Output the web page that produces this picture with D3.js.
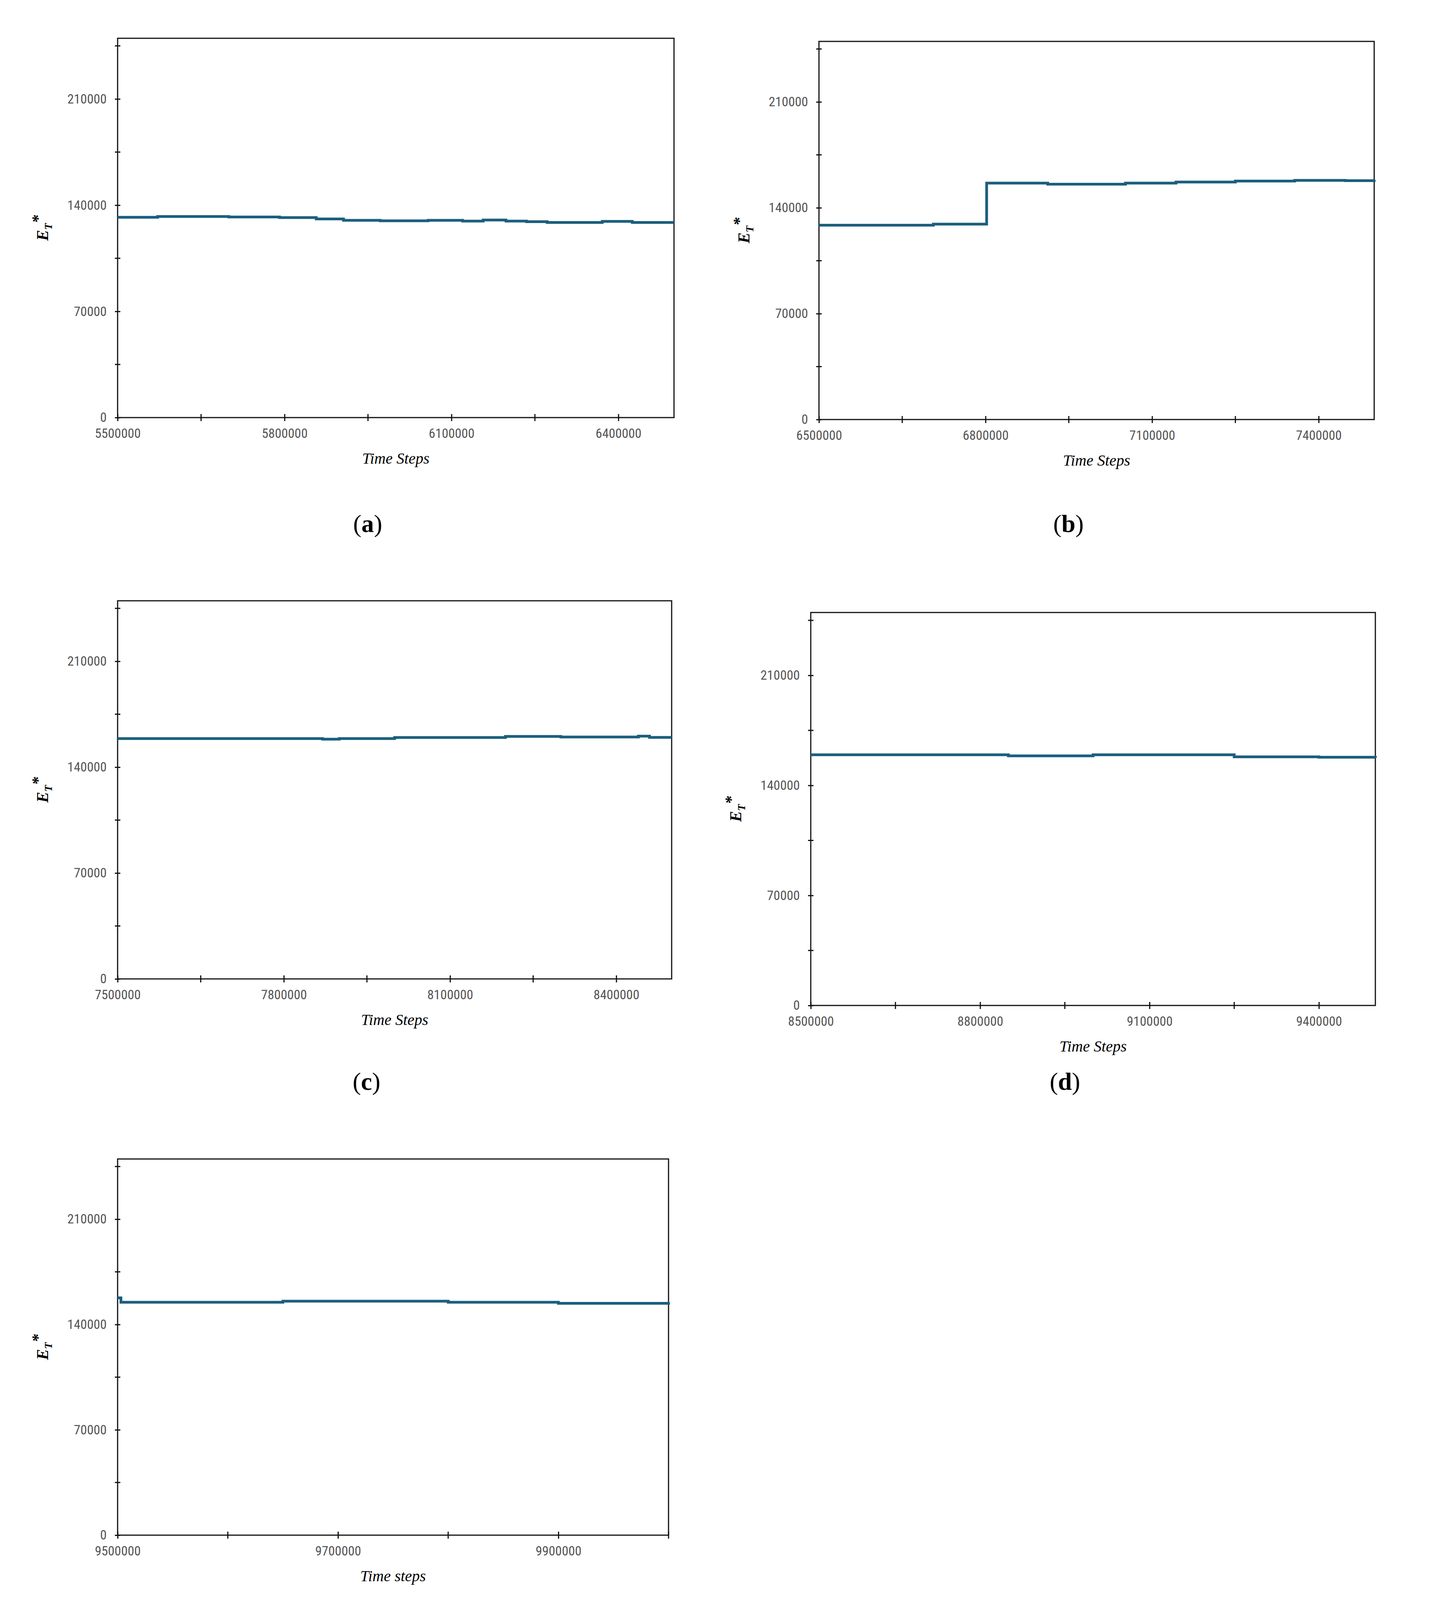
<!DOCTYPE html>
<html><head><meta charset="utf-8">
<script src="https://cdn.jsdelivr.net/npm/d3@7"></script>
<style>html,body{margin:0;padding:0;background:#fff;overflow:hidden}svg{display:block}</style></head>
<body><svg id="c" width="3688" height="4266"></svg>
<script>
// Data: [time step, E_T*] step points per panel
const seriesA = [[5500000,132000],[5572000,132500],[5700000,132200],[5791000,131800],[5857000,130900],[5906000,130000],[5972000,129700],[6058000,130000],[6120000,129500],[6157000,130200],[6198000,129500],[6235000,129100],[6272000,128600],[6371000,129300],[6425000,128600],[6500000,128600]];
const seriesB = [[6500000,128500],[6706000,129200],[6802000,129200],[6802000,156300],[6912000,155600],[7052000,156300],[7143000,157000],[7250000,157700],[7357000,158100],[7448000,157900],[7500000,158600]];
const seriesC = [[7500000,158900],[7870000,158500],[7900000,158900],[8000000,159600],[8200000,160300],[8300000,159900],[8440000,160500],[8460000,159700],[8500000,159700]];
const seriesD = [[8500000,159500],[8850000,158800],[9000000,159500],[9150000,159500],[9250000,158200],[9400000,157900],[9500000,157500]];
const seriesE = [[9500000,157700],[9503000,154800],[9650000,155500],[9800000,154800],[9900000,154100],[10000000,154800]];
const yMajor = [0,70000,140000,210000];
const yMinor = [35000,105000,175000,245000];
const panels = [
 {data:seriesA,x0:5500000,x1:6500000,major:[5500000,5800000,6100000,6400000],minor:[5650000,5950000,6250000],xl:"Time Steps",cap:"a",box:[301,98,1725,1069]},
 {data:seriesB,x0:6500000,x1:7500000,major:[6500000,6800000,7100000,7400000],minor:[6650000,6950000,7250000],xl:"Time Steps",cap:"b",box:[2096,106,3517,1074]},
 {data:seriesC,x0:7500000,x1:8500000,major:[7500000,7800000,8100000,8400000],minor:[7650000,7950000,8250000],xl:"Time Steps",cap:"c",box:[301,1538,1719,2506]},
 {data:seriesD,x0:8500000,x1:9500000,major:[8500000,8800000,9100000,9400000],minor:[8650000,8950000,9250000],xl:"Time Steps",cap:"d",box:[2075,1568,3520,2574]},
 {data:seriesE,x0:9500000,x1:10000000,major:[9500000,9700000,9900000],minor:[9600000,9800000,10000000],xl:"Time steps",cap:"e",box:[301,2967,1711,3930]}
];
const capY = [1362,1362,2790,2790,4215];
const svg = d3.select("#c");
const tickFont = "'Liberation Sans Narrow','Roboto Condensed','Liberation Sans',sans-serif";
panels.forEach((p,i)=>{
  const [L,T,R,B]=p.box;
  const x=d3.scaleLinear().domain([p.x0,p.x1]).range([L,R]);
  const y=d3.scaleLinear().domain([0,250000]).range([B,T]);
  const g=svg.append("g");
  g.append("rect").attr("x",L).attr("y",T).attr("width",R-L).attr("height",B-T).attr("fill","none").attr("stroke","#111").attr("stroke-width",3);
  const ya=g.append("g").attr("transform",`translate(${L},0)`).call(d3.axisLeft(y).tickValues(yMajor).tickFormat(d3.format("d")).tickSize(14).tickSizeOuter(0));
  ya.select(".domain").remove();
  ya.selectAll(".tick line").attr("x1",7).attr("x2",-7).attr("stroke","#111").attr("stroke-width",3);
  ya.selectAll(".tick text").attr("x",-28).attr("font-size",34).attr("fill","#555").attr("font-family",tickFont);
  g.selectAll(".ymin").data(yMinor).enter().append("line").attr("x1",L-7).attr("x2",L+7).attr("y1",d=>y(d)).attr("y2",d=>y(d)).attr("stroke","#111").attr("stroke-width",3);
  const xa=g.append("g").attr("transform",`translate(0,${B})`).call(d3.axisBottom(x).tickValues(p.major).tickFormat(d3.format("d")).tickSize(14).tickSizeOuter(0));
  xa.select(".domain").remove();
  xa.selectAll(".tick line").attr("y1",-9).attr("y2",9).attr("stroke","#111").attr("stroke-width",3);
  xa.selectAll(".tick text").attr("y",28).attr("font-size",34).attr("fill","#555").attr("font-family",tickFont);
  g.selectAll(".xmin").data(p.minor).enter().append("line").attr("x1",d=>x(d)).attr("x2",d=>x(d)).attr("y1",B-9).attr("y2",B+9).attr("stroke","#111").attr("stroke-width",3);
  const line=d3.line().x(d=>x(d[0])).y(d=>y(d[1])).curve(d3.curveStepAfter);
  g.append("path").datum(p.data).attr("d",line).attr("fill","none").attr("stroke","#1b5f7e").attr("stroke-width",7);
  g.append("text").attr("x",(L+R)/2).attr("y",B+118).attr("text-anchor","middle").attr("font-family","'Liberation Serif',serif").attr("font-style","italic").attr("font-size",40).text(p.xl);
  const yl=g.append("text").attr("transform",`translate(${L-178},${y(125000)}) rotate(-90)`).attr("text-anchor","middle").attr("font-family","'Liberation Serif',serif").attr("font-style","italic").attr("font-weight","bold").attr("font-size",42);
  yl.append("tspan").text("E");
  yl.append("tspan").attr("font-size",28).attr("dy",10).text("T");
  yl.append("tspan").attr("dy",-22).attr("font-size",42).text("*");
  const cap=g.append("text").attr("x",(L+R)/2-72).attr("y",capY[i]).attr("text-anchor","middle").attr("font-family","'Liberation Serif',serif").attr("font-size",64);
  cap.append("tspan").text("(");
  cap.append("tspan").attr("font-weight","bold").text(p.cap);
  cap.append("tspan").text(")");
});
</script></body></html>
